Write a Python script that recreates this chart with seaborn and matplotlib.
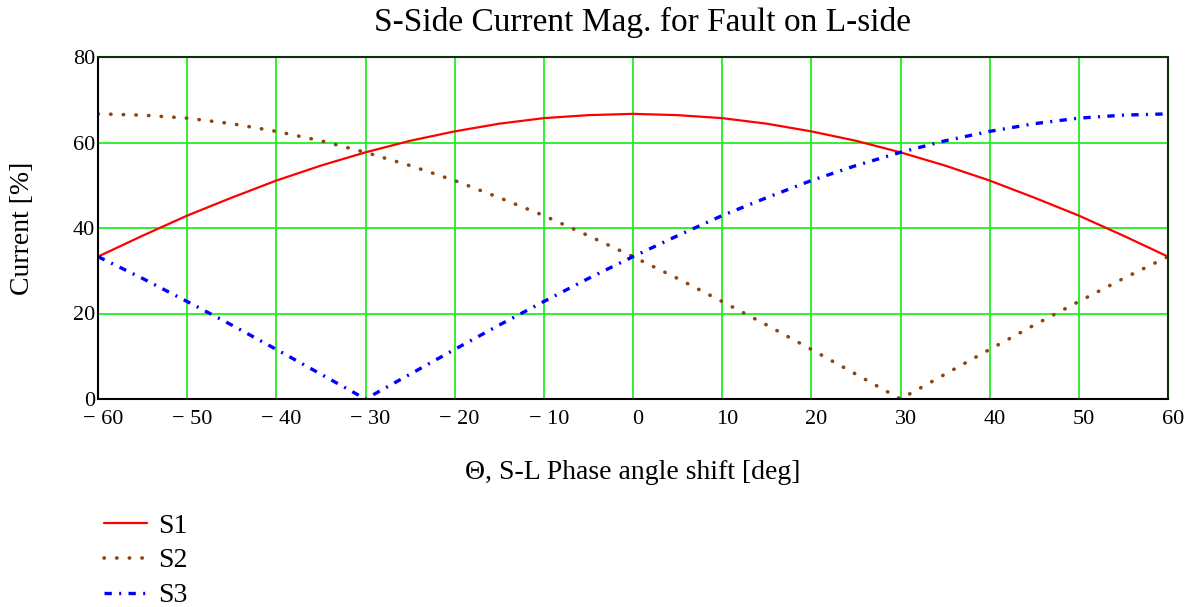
import numpy as np
import pandas as pd
import matplotlib
matplotlib.use("Agg")
import matplotlib.pyplot as plt
import matplotlib.transforms as mtransforms
import seaborn as sns
from matplotlib.ticker import FixedLocator, FuncFormatter

# Data (theta in degrees, current in %)
theta = [-60, -55, -50, -45, -40, -35, -30, -25, -20, -15, -10, -5, 0,
         5, 10, 15, 20, 25, 30, 35, 40, 45, 50, 55, 60]
s1 = [33.3, 38.2, 42.9, 47.1, 51.1, 54.6, 57.7, 60.4, 62.6, 64.4, 65.7, 66.4, 66.7,
      66.4, 65.7, 64.4, 62.6, 60.4, 57.7, 54.6, 51.1, 47.1, 42.9, 38.2, 33.3]
s2 = [66.7, 66.4, 65.7, 64.4, 62.6, 60.4, 57.7, 54.6, 51.1, 47.1, 42.9, 38.2, 33.3,
      28.2, 22.8, 17.3, 11.6, 5.8, 0.0, 5.8, 11.6, 17.3, 22.8, 28.2, 33.3]
s3 = [33.3, 28.2, 22.8, 17.3, 11.6, 5.8, 0.0, 5.8, 11.6, 17.3, 22.8, 28.2, 33.3,
      38.2, 42.9, 47.1, 51.1, 54.6, 57.7, 60.4, 62.6, 64.4, 65.7, 66.4, 66.7]
series_names = ["S1", "S2", "S3"]
x_ticks = [-60, -50, -40, -30, -20, -10, 0, 10, 20, 30, 40, 50, 60]
y_ticks = [0, 20, 40, 60, 80]

sns.set_theme(style="white")
plt.rcParams['font.family'] = ['Liberation Serif', 'DejaVu Serif']
plt.rcParams['text.color'] = 'black'
plt.rcParams['axes.labelcolor'] = 'black'
plt.rcParams['xtick.color'] = 'black'
plt.rcParams['ytick.color'] = 'black'

fig = plt.figure(figsize=(11.94, 6.07), dpi=100)
ax = fig.add_axes([98/1194, 1-399/607, (1168-98)/1194, (399-57)/607])

df = pd.DataFrame({"theta": theta, "S1": s1, "S2": s2, "S3": s3})

styles = {
    "S1": dict(color="#ff0000", linewidth=1.6, linestyle="-"),
    "S2": dict(color="#8b4513", linewidth=2.6, linestyle=(0, (0.1, 3.4)), dash_capstyle="round"),
    "S3": dict(color="#0000ff", linewidth=2.4, linestyle=(0, (2.2, 2.2, 0.6, 2.2))),
}
for name in series_names:
    st = dict(styles[name])
    cap = st.pop("dash_capstyle", None)
    sns.lineplot(data=df, x="theta", y=name, ax=ax, label=name, legend=False,
                 sort=False, estimator=None, **st)
    if cap:
        ax.lines[-1].set_dash_capstyle(cap)

ax.set_xlim(-60, 60)
ax.set_ylim(0, 80)
ax.xaxis.set_major_locator(FixedLocator(x_ticks))
ax.yaxis.set_major_locator(FixedLocator(y_ticks))

def fmt(v, pos):
    v = int(round(v))
    return "\u2212 %d" % abs(v) if v < 0 else "%d" % v

ax.xaxis.set_major_formatter(FuncFormatter(fmt))
ax.tick_params(axis='both', length=0, labelsize=16, colors='black')
ax.tick_params(axis='x', pad=8)
ax.tick_params(axis='y', pad=2)
shift = mtransforms.ScaledTranslation(5/100, 0, fig.dpi_scale_trans)
for lbl in ax.get_xticklabels():
    lbl.set_transform(lbl.get_transform() + shift)
ax.grid(True, color="#22ee22", linewidth=1.3)
ax.set_axisbelow(True)
for side in ["left", "bottom"]:
    ax.spines[side].set_color("black")
    ax.spines[side].set_linewidth(1.5)
for side in ["top", "right"]:
    ax.spines[side].set_color("#0b300b")
    ax.spines[side].set_linewidth(1.5)
    ax.spines[side].set_visible(True)

ax.set_xlabel("\u0398, S-L Phase angle shift [deg]", fontsize=20, labelpad=22)
ax.set_ylabel("Current [%]", fontsize=20, labelpad=27)
fig.text(643/1194, 1-22/607, "S-Side Current Mag. for Fault on L-side",
         fontsize=24, ha="center", va="center")

handles = ax.lines[:3]
leg = fig.legend(handles, series_names, loc="upper left",
                 bbox_to_anchor=(93/1194, 1-502/607), frameon=False,
                 fontsize=20, handlelength=1.55, handletextpad=0.4,
                 labelspacing=0.34, borderaxespad=0)

fig.savefig("out.png", dpi=100)
